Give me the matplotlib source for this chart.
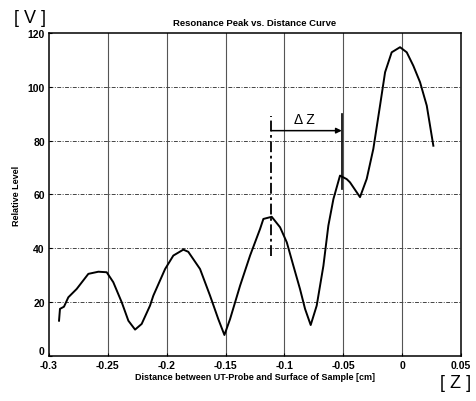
import numpy as np
import matplotlib.pyplot as plt

# curve
dist = [-0.2915, -0.2907, -0.2873, -0.2836, -0.2765, -0.2666, -0.2581, -0.251, -0.2454,
        -0.2382, -0.2326, -0.2269, -0.2213, -0.2142, -0.2114, -0.2014, -0.1944, -0.1859,
        -0.1817, -0.1717, -0.1632, -0.1562, -0.151, -0.1462, -0.1377, -0.1292, -0.1207,
        -0.1179, -0.1108, -0.1037, -0.098, -0.0924, -0.0868, -0.0825, -0.0777, -0.0726,
        -0.0669, -0.0627, -0.0584, -0.0528, -0.0471, -0.0443, -0.0358, -0.0301, -0.0245,
        -0.0188, -0.0145, -0.0089, -0.0018, 0.0039, 0.0095, 0.0152, 0.0209, 0.0265]
level = [13.1, 17.5, 18.3, 21.8, 24.9, 30.5, 31.3, 31.1, 27.4,
         19.9, 13.1, 9.8, 11.9, 18.7, 22.4, 32.3, 37.3, 39.5,
         38.7, 32.3, 22.4, 13.7, 7.8, 13.7, 26.1, 37.3, 47.2,
         50.9, 51.7, 47.8, 42.2, 33.5, 24.9, 17.5, 11.5, 18.7,
         33.5, 48.4, 58.3, 67.0, 65.7, 64.5, 59.0, 65.8, 76.9,
         93.0, 105.4, 112.8, 114.7, 112.8, 107.8, 101.7, 93.0, 78.1]

xticks = [-0.3, -0.25, -0.2, -0.15, -0.1, -0.05, 0, 0.05]
xticklabels = ['-0.3', '-0.25', '-0.2', '-0.15', '-0.1', '-0.05', '0', '0.05']
yticks = [0, 20, 40, 60, 80, 100, 120]

# delta z marker
dz_left, dz_right, dz_y = -0.1114, -0.0513, 83.7

plt.rcParams['font.family'] = ['Liberation Sans', 'DejaVu Sans']

fig = plt.figure(figsize=(4.76, 4.02), dpi=100)
ax = fig.add_axes([0.103, 0.112, 0.8655, 0.8036])

for xv in xticks[1:-1]:
    ax.axvline(xv, color='#555555', lw=0.8, zorder=1)
for yv in yticks[1:-1]:
    ax.axhline(yv, color='#444444', lw=0.7, ls=(0, (4, 1.5, 1, 1.5)), zorder=1)

ax.plot(dist, level, color='black', lw=1.4, zorder=3)

# delta z annotation
ax.plot([dz_left, dz_left], [37, 89], color='black', lw=1.3, ls=(0, (6, 2, 1.5, 2)), zorder=4)
ax.plot([dz_right, dz_right], [62, 90], color='black', lw=1.2, zorder=4)
ax.annotate('', xy=(dz_right, dz_y), xytext=(dz_left, dz_y),
            arrowprops=dict(arrowstyle='-|>', color='black', lw=1.1,
                            mutation_scale=8, shrinkA=0, shrinkB=0), zorder=5)
ax.text(-0.083, 85.3, '\u0394 Z', fontsize=10, ha='center', va='bottom')

ax.set_xlim(-0.3, 0.05)
ax.set_ylim(0, 120)
ax.set_xticks(xticks)
ax.set_xticklabels(xticklabels)
ax.set_yticks(yticks)
ax.tick_params(labelsize=7.5, length=2, width=0.8, direction='in', pad=3)
for lab in ax.get_xticklabels() + ax.get_yticklabels():
    lab.set_fontweight('bold')
ax.get_yticklabels()[0].set_verticalalignment('bottom')
for sp in ax.spines.values():
    sp.set_linewidth(1.1)

ax.set_title('Resonance Peak vs. Distance Curve', fontsize=6.8, fontweight='bold', pad=6)
ax.set_xlabel('Distance between UT-Probe and Surface of Sample [cm]', fontsize=6.5,
              fontweight='bold', labelpad=1)
ax.set_ylabel('Relative Level', fontsize=6.5, fontweight='bold', labelpad=5)

fig.text(0.063, 0.953, '[ V ]', fontsize=13, ha='center', va='center')
fig.text(0.958, 0.045, '[ Z ]', fontsize=13, ha='center', va='center')

fig.savefig('out.png', dpi=100)
